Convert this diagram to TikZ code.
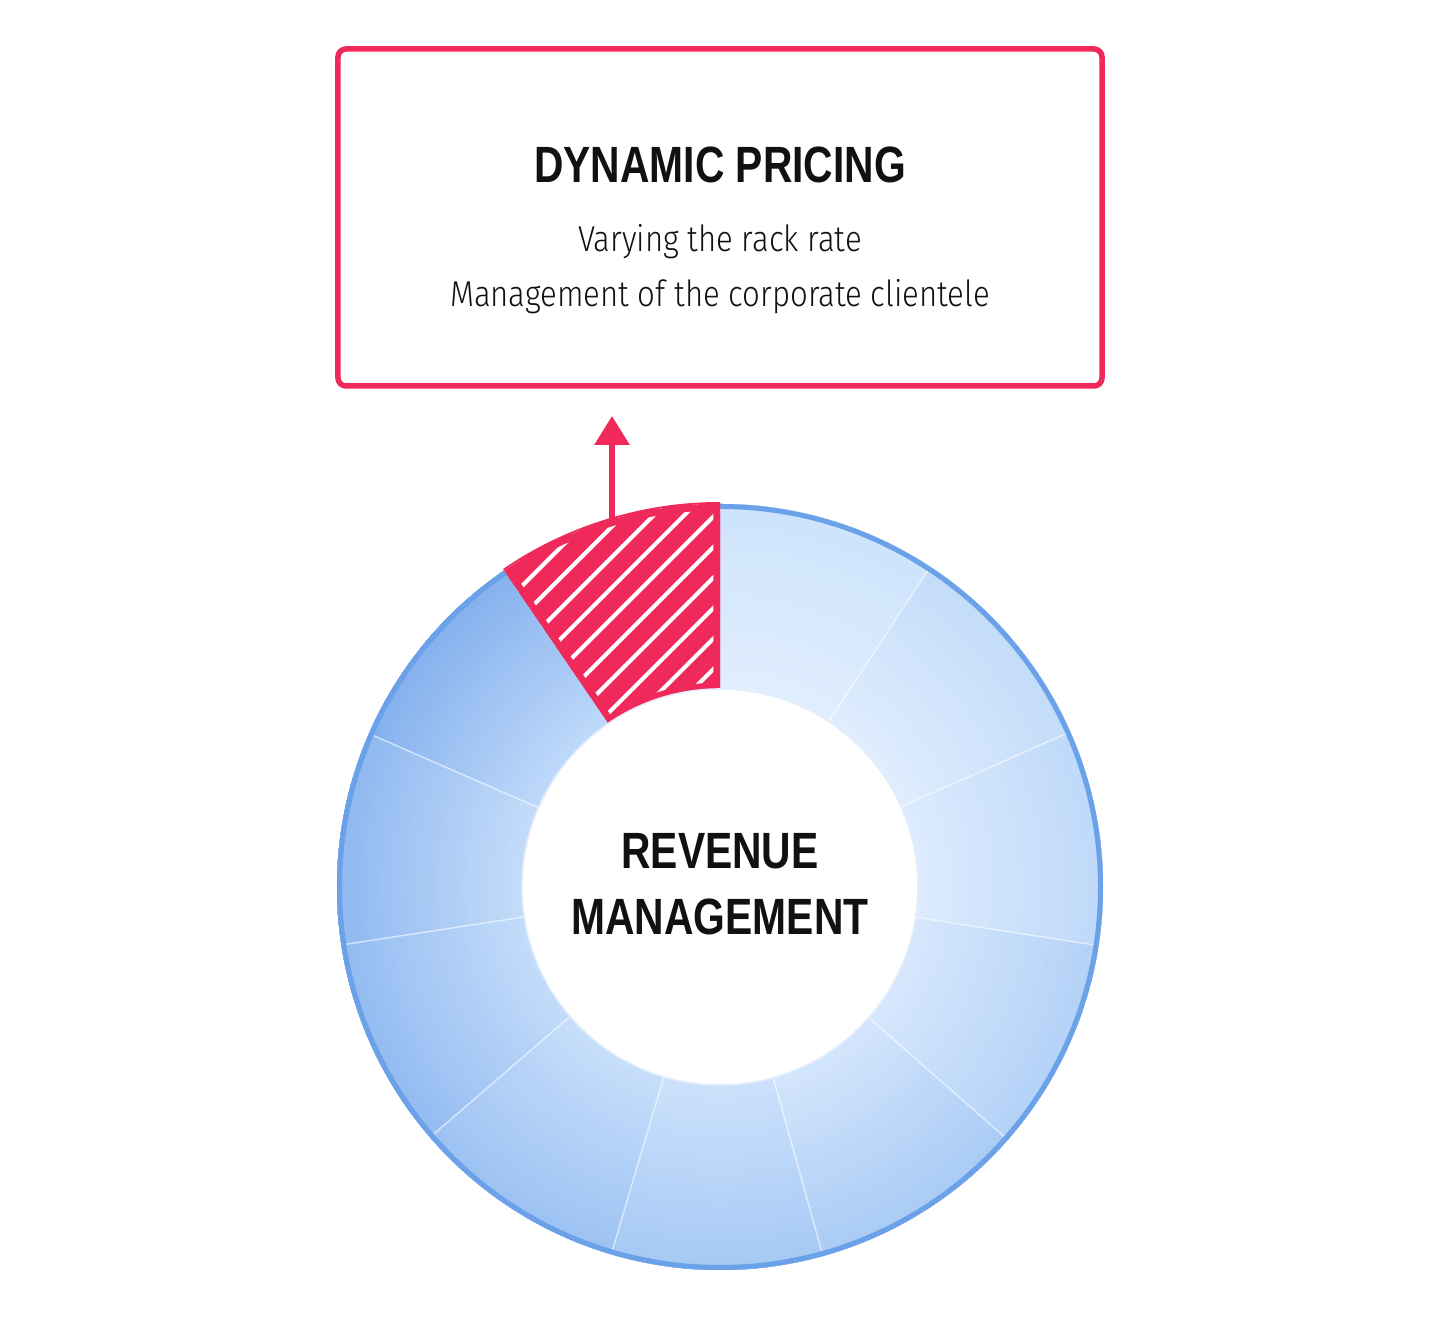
\documentclass[tikz,border=0pt]{standalone}
\usepackage{fontspec}
\usetikzlibrary{arrows.meta}
\newfontfamily\condfont[FakeStretch=0.8]{Liberation Sans}
\newfontfamily\lightfont[FakeStretch=0.865]{Fira Sans Light}
\definecolor{accent}{HTML}{EF2A5B}
\definecolor{ringline}{HTML}{6AA1E8}
\definecolor{innerline}{HTML}{E3EEFC}
\definecolor{ink}{HTML}{111111}
\definecolor{segin}{HTML}{E0EEFE}
\definecolor{segout}{HTML}{CDE3FC}
\tikzset{
  divider/.style={white, opacity=0.6, line width=0.7pt},
  titletext/.style={anchor=base, text=ink, font=\condfont\bfseries\fontsize{25.5}{30}\selectfont},
  bodytext/.style={anchor=base, text=ink, font=\lightfont\fontsize{18}{22}\selectfont},
}
\begin{document}
\begin{tikzpicture}[x=0.5pt,y=0.5pt]
\useasboundingbox (-720,-455) rectangle (720,887);
% ring segments, each shaded from inner to outer colour
\foreach \a/\b/\ci/\co in {90/56.7/E0EEFE/CDE3FC, 56.7/23.9/DFEDFE/C3DCF9, 23.9/-8.8/DCEBFE/BFD9F9, -8.8/-41.3/D6E7FD/B3D2F7, -41.3/-74.4/D3E5FC/A9CBF5, -74.4/-106.5/CBE1FB/A6C9F5, -106.5/-139.2/C6DEFA/9DC2F3, -139.2/-171.3/C2DBFA/94BCF1, -171.3/-203.6/C3DBF9/8FB9F0, -203.6/-235.7/BDD8F9/86B1EE}{
  \definecolor{segin}{HTML}{\ci}
  \definecolor{segout}{HTML}{\co}
  \foreach \j in {0,...,29}{
    \pgfmathsetmacro\r{198+\j*185/30}
    \pgfmathsetmacro\p{100*\j/29}
    \fill[segout!\p!segin] (\a:\r) arc[start angle=\a, end angle=\b, radius=\r] -- (\b:383) arc[start angle=\b, end angle=\a, radius=383] -- cycle;
  }
}
\foreach \a in {56.7, 23.9, -8.8, -41.3, -74.4, -106.5, -139.2, -171.3, -203.6}
  \draw[divider] (\a:198) -- (\a:383);
% outer border
\draw[ringline, line width=2.5pt] (0,0) circle[radius=380.5];
% highlighted segment
\fill[accent] (90:385) arc[start angle=90, end angle=124.3, radius=385] -- (124.3:197) arc[start angle=124.3, end angle=90, radius=197] -- cycle;
\begin{scope}
  \clip (90:383) arc[start angle=90, end angle=124.3, radius=383] -- (124.3:198) arc[start angle=124.3, end angle=90, radius=198] -- cycle;
  \foreach \k in {-7,...,8}
    \draw[white, line width=2.1pt] (-280,-280+377+\k*30.5) -- (20,20+377+\k*30.5);
  \draw[accent, line width=6.5pt] (90:383) arc[start angle=90, end angle=124.3, radius=383] -- (124.3:198) arc[start angle=124.3, end angle=90, radius=198] -- cycle;
\end{scope}
% centre
\node[circle, fill=white, draw=innerline, line width=0.8pt, minimum size=198pt, inner sep=0pt] (core) at (0,0) {};
\node[titletext] (rev1) at (0,18) {REVENUE};
\node[titletext] (rev2) at (0,-48) {MANAGEMENT};
% arrow
\coordinate (segtop) at (-108,367.5);
\coordinate (tip) at (-108,471);
\draw[accent, line width=3pt, -{Triangle[width=17pt,length=14.5pt]}] (segtop) -- (tip);
% box
\node[draw=accent, line width=2.75pt, rounded corners=4pt, minimum width=382pt, minimum height=168.5pt, inner sep=0pt] (box) at (0,669.5) {};
\node[titletext] (title) at (0,704) {DYNAMIC PRICING};
\node[bodytext] (line1) at (0,635) {Varying the rack rate};
\node[bodytext] (line2) at (0,580) {Management of the corporate clientele};
\end{tikzpicture}
\end{document}
